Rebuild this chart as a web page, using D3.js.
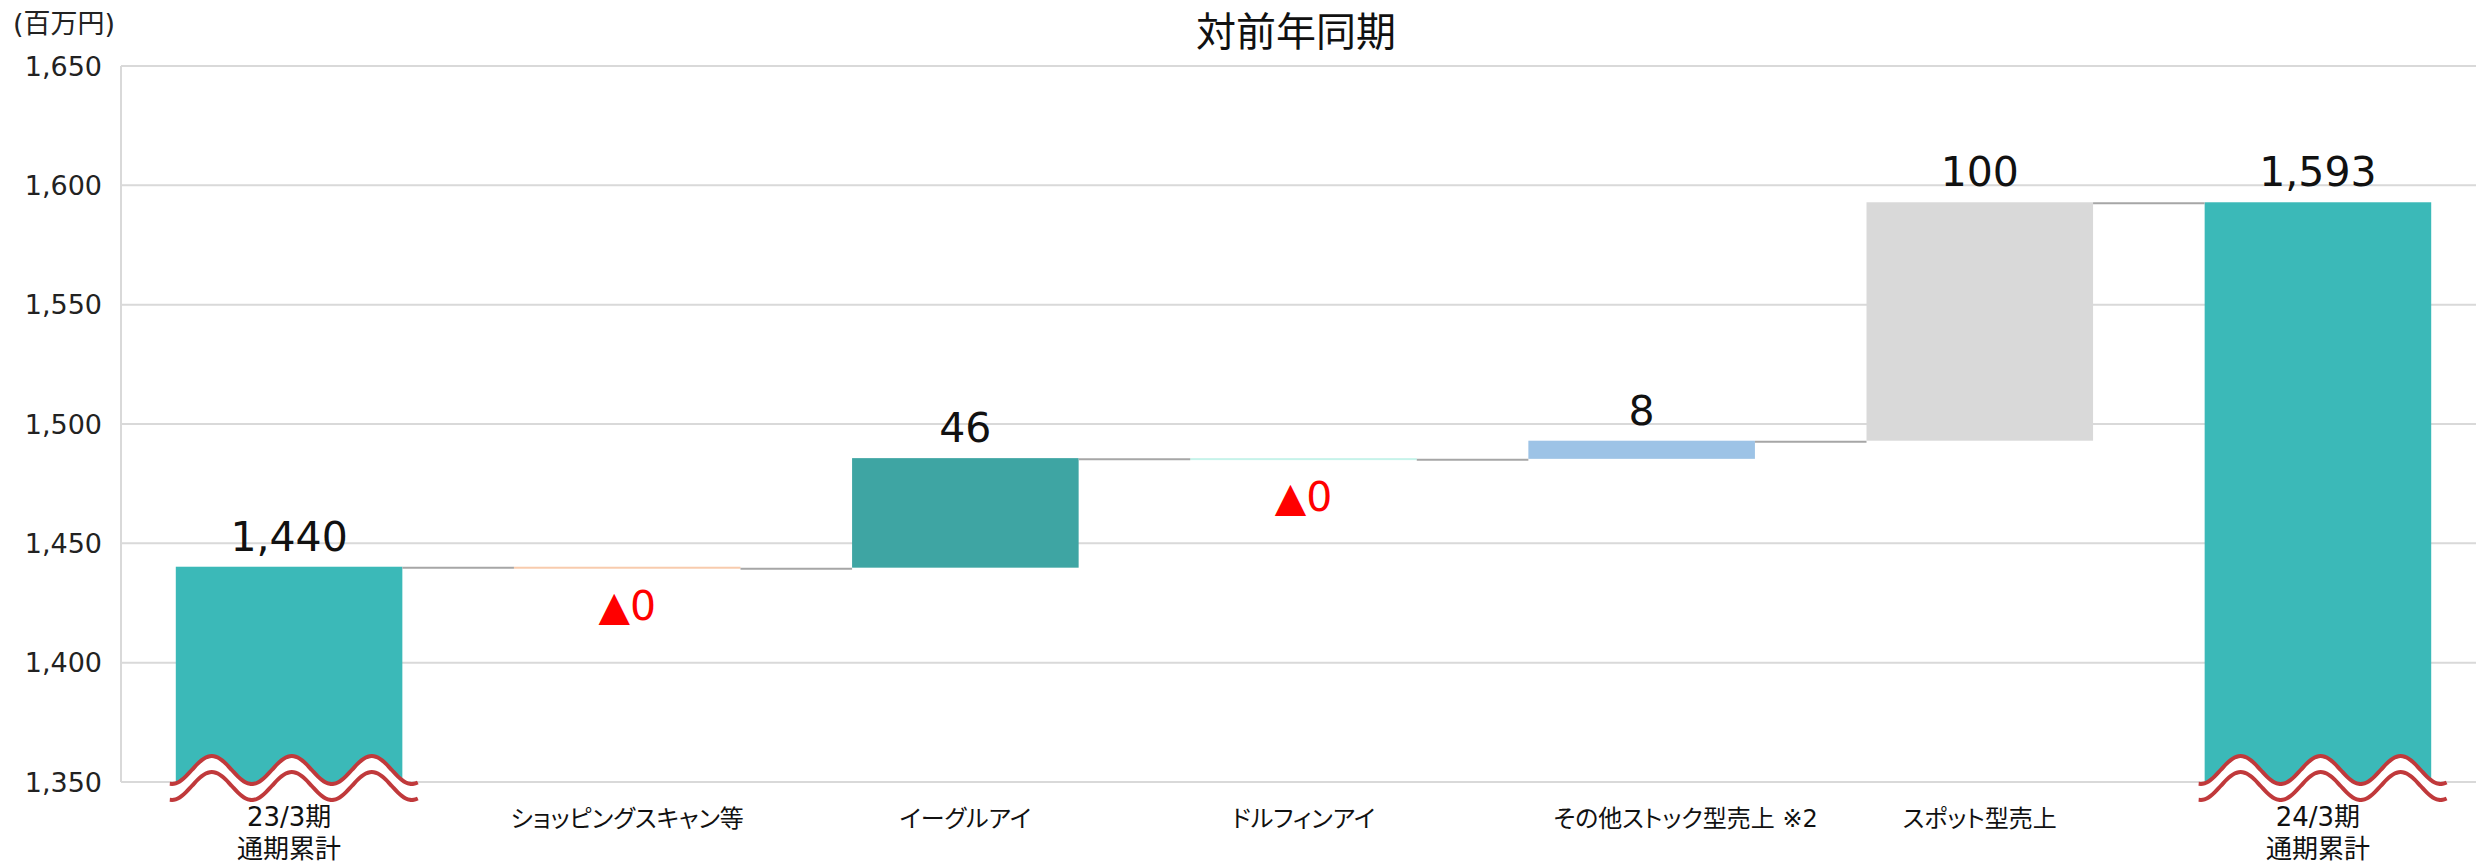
<!DOCTYPE html>
<html>
<head>
<meta charset="utf-8">
<script src="https://cdn.jsdelivr.net/npm/d3@7"></script>
<style>
  body { margin: 0; background: #fff; }
  svg { display: block; }
  .num { font-family: "DejaVu Sans", Verdana, sans-serif; }
  .jp { font-family: "DejaVu Sans", "Noto Sans CJK JP", sans-serif; font-feature-settings: "palt"; }
</style>
</head>
<body>
<div id="main"></div>
<script>
// 対前年同期 ウォーターフォール (百万円)
const categories = ["23/3期\n通期累計", "ショッピングスキャン等", "イーグルアイ", "ドルフィンアイ", "その他ストック型売上 ※2", "スポット型売上", "24/3期\n通期累計"]
const values = [1440.2, -0.4, 45.9, -0.3, 7.6, 99.9, 1592.9]
const kinds = ["total", "delta", "delta", "delta", "delta", "delta", "total"]
const yTicks = [1350, 1400, 1450, 1500, 1550, 1600, 1650]
const title = "対前年同期"
const unitLabel = "(百万円)"

const W = 2476, H = 865
const plot = {left: 121, right: 2476, top: 66, bottom: 782}

const colors = {
  "23/3期\n通期累計": "#3bb9b8",
  "ショッピングスキャン等": "#f8cbad",
  "イーグルアイ": "#3ea5a3",
  "ドルフィンアイ": "#c6f3ea",
  "その他ストック型売上 ※2": "#9dc3e6",
  "スポット型売上": "#d9d9d9",
  "24/3期\n通期累計": "#3bb9b8"
}

const svg = d3.select("#main").append("svg")
  .attr("width", W).attr("height", H)

const y = d3.scaleLinear().domain([yTicks[0], yTicks[yTicks.length - 1]]).range([plot.bottom, plot.top])
const x = d3.scaleBand().domain(categories).range([120, 2487]).paddingInner(0.33).paddingOuter(0.165)

// build waterfall segments
let running = 0
const bars = categories.map((c, i) => {
  let lo, hi, level
  if (kinds[i] === "total") {
    lo = y.domain()[0]; hi = values[i]; level = values[i]
    running = values[i]
  } else {
    const start = running
    running += values[i]
    lo = Math.min(start, running); hi = Math.max(start, running); level = running
  }
  return {cat: c, v: values[i], kind: kinds[i], lo, hi, level}
})

const fmt = d3.format(",.0f")

// gridlines
svg.append("g").selectAll("line").data(yTicks).enter().append("line")
  .attr("x1", plot.left).attr("x2", plot.right)
  .attr("y1", d => y(d)).attr("y2", d => y(d))
  .attr("stroke", "#d9d9d9").attr("stroke-width", 2)
svg.append("line")
  .attr("x1", plot.left).attr("x2", plot.left)
  .attr("y1", plot.top).attr("y2", plot.bottom)
  .attr("stroke", "#d9d9d9").attr("stroke-width", 2)

// y tick labels
svg.append("g").selectAll("text").data(yTicks).enter().append("text")
  .attr("class", "num")
  .attr("x", 102).attr("y", d => y(d))
  .attr("dy", "0.36em")
  .attr("text-anchor", "end")
  .style("font-size", "27px").attr("fill", "#222")
  .text(d => d3.format(",")(d))

svg.append("text").attr("class", "jp")
  .attr("x", 13).attr("y", 33)
  .style("font-size", "27px").attr("fill", "#222")
  .text(unitLabel)

svg.append("text")
  .attr("x", 1296).attr("y", 46)
  .attr("text-anchor", "middle")
  .style("font-family", "'Noto Sans CJK JP', sans-serif")
  .style("font-size", "40px").attr("fill", "#111")
  .text(title)

// bars
svg.append("g").selectAll("rect").data(bars).enter().append("rect")
  .attr("x", d => x(d.cat))
  .attr("width", x.bandwidth())
  .attr("y", d => y(d.hi))
  .attr("height", d => Math.max(2, y(d.lo) - y(d.hi)))
  .attr("fill", d => colors[d.cat])

// connectors
const links = bars.slice(0, -1).map((d, i) => ({from: d, to: bars[i + 1]}))
svg.append("g").selectAll("line").data(links).enter().append("line")
  .attr("x1", d => x(d.from.cat) + x.bandwidth())
  .attr("x2", d => x(d.to.cat))
  .attr("y1", d => y(d.from.level) + 1).attr("y2", d => y(d.from.level) + 1)
  .attr("stroke", "#a6a6a6").attr("stroke-width", 2)

// break marks on the total bars
const waveLine = d3.line().curve(d3.curveCatmullRom)
bars.filter(d => d.kind === "total").forEach(d => {
  const bx = x(d.cat), bw = x.bandwidth()
  const cy = y(y.domain()[0]) - 12, A = 14, P = 80, gap = 16
  const xs = d3.range(bx - 6, bx + bw + 19, 4)
  const top = xs.map(px => [px, cy - A * Math.cos(2 * Math.PI * (px - (bx + 36)) / P)])
  const bot = top.map(p => [p[0], p[1] + gap])
  const fillPts = top.concat([[xs[xs.length - 1], y(y.domain()[0]) + 5], [xs[0], y(y.domain()[0]) + 5]])
  svg.append("path").attr("d", d3.line()(fillPts)).attr("fill", "#fff")
  svg.append("path").attr("d", waveLine(top)).attr("fill", "none").attr("stroke", "#c0393b").attr("stroke-width", 4)
  svg.append("path").attr("d", waveLine(bot)).attr("fill", "none").attr("stroke", "#c0393b").attr("stroke-width", 4)
})

// value labels
svg.append("g").selectAll("text").data(bars).enter().append("text")
  .attr("class", "num")
  .attr("x", d => x(d.cat) + x.bandwidth() / 2)
  .attr("y", d => d.v < 0 ? y(d.level) + 52 : y(d.hi) - 16)
  .attr("text-anchor", "middle")
  .style("font-size", "41px")
  .attr("fill", d => d.v < 0 ? "#ff0000" : "#111")
  .text(d => d.v < 0 ? "▲" + fmt(Math.abs(d.v)) : fmt(d.v))

// category labels
const cat = svg.append("g").selectAll("text").data(categories).enter().append("text")
  .attr("class", "jp")
  .attr("x", d => x(d) + x.bandwidth() / 2 + (d.includes("※") ? 44 : 0)) // label sits right of center in original
  .attr("y", d => d.includes("\n") ? 826 : 827)
  .attr("text-anchor", "middle")
  .style("font-size", d => d.includes("\n") ? "26px" : "24px")
  .attr("fill", "#111")
cat.selectAll("tspan").data(d => d.split("\n")).enter().append("tspan")
  .attr("x", function() { return d3.select(this.parentNode).attr("x") })
  .attr("dy", (d, i) => i === 0 ? 0 : 32)
  .text(d => d)
</script>
</body>
</html>
